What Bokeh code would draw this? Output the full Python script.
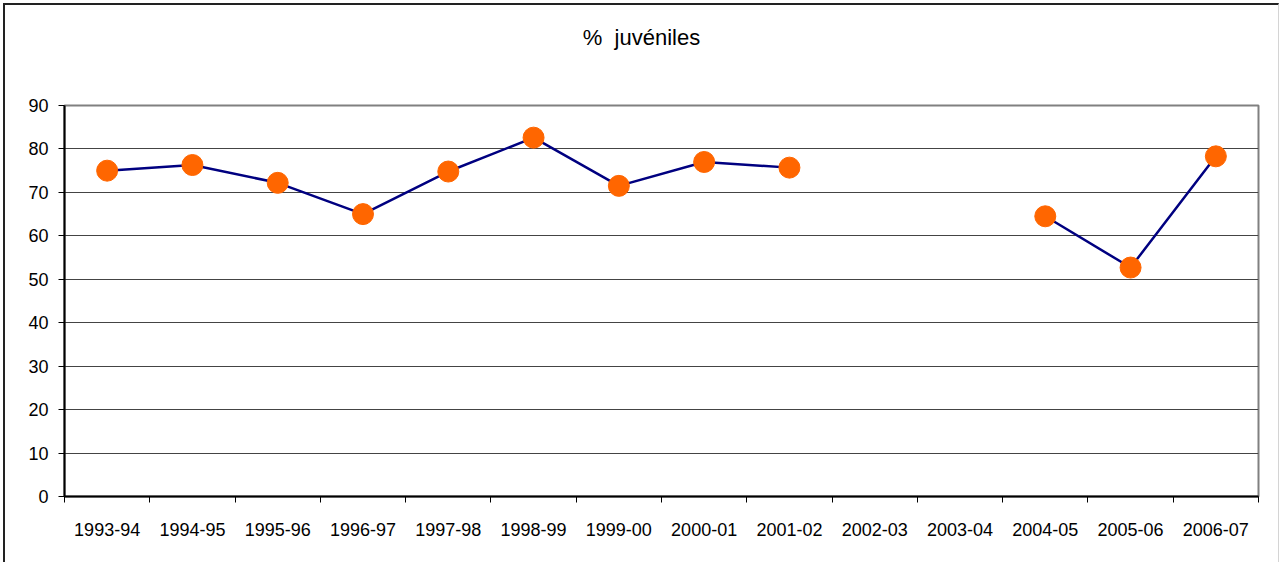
from bokeh.plotting import figure
from bokeh.models import FixedTicker, Range1d, ColumnDataSource, Div
from bokeh.layouts import column
from bokeh.embed import file_html
from bokeh.resources import INLINE

seasons = ["1993-94", "1994-95", "1995-96", "1996-97", "1997-98", "1998-99", "1999-00",
           "2000-01", "2001-02", "2002-03", "2003-04", "2004-05", "2005-06", "2006-07"]
pct_juveniles = [75.0, 76.3, 72.2, 65.0, 74.8, 82.6, 71.5, 77.0, 75.7,
                 None, None, 64.5, 52.7, 78.3]
y_ticks = [0, 10, 20, 30, 40, 50, 60, 70, 80, 90]
title_text = "%  juvéniles"

xs = list(range(1, len(seasons) + 1))
ys = [float("nan") if v is None else v for v in pct_juveniles]
src = ColumnDataSource(dict(x=xs, y=ys))

title_div = Div(text=title_text, width=1273, height=26, margin=(20, 0, 0, 0),
                styles={"font-family": "Liberation Sans", "font-size": "22px",
                        "text-align": "center", "white-space": "pre", "line-height": "26px",
                        "color": "black", "width": "1273px"})

p = figure(width=1273, height=511, output_backend="svg", toolbar_location=None,
           x_range=Range1d(0.5, len(seasons) + 0.5), y_range=Range1d(0, 90),
           min_border_left=59, min_border_right=20, min_border_top=54, min_border_bottom=66,
           margin=(0, 0, 0, 0))
p.background_fill_color = "white"
p.border_fill_color = "white"
p.outline_line_color = "#808080"
p.outline_line_width = 2

# axes
xa = p.xaxis[0]
xa.ticker = FixedTicker(ticks=xs, minor_ticks=[i + 0.5 for i in range(0, len(seasons) + 1)])
xa.major_label_overrides = {x: s for x, s in zip(xs, seasons)}
xa.major_tick_out = 0
xa.major_tick_in = 0
xa.minor_tick_out = 6
xa.minor_tick_in = 0
xa.minor_tick_line_color = "black"
xa.axis_line_color = "black"
xa.axis_line_width = 2
xa.major_label_standoff = 20
xa.major_label_text_font = "Liberation Sans"
xa.major_label_text_font_size = "18px"
xa.major_label_text_color = "black"

ya = p.yaxis[0]
ya.ticker = FixedTicker(ticks=y_ticks)
ya.major_tick_out = 6
ya.major_tick_in = 0
ya.minor_tick_out = 0
ya.minor_tick_in = 0
ya.axis_line_color = "black"
ya.axis_line_width = 2
ya.major_label_standoff = 10
ya.major_label_text_font = "Liberation Sans"
ya.major_label_text_font_size = "18px"
ya.major_label_text_color = "black"

p.xgrid.grid_line_color = None
p.ygrid.grid_line_color = "#444444"
p.ygrid.grid_line_width = 1

p.line("x", "y", source=src, line_color="#000080", line_width=2.5)
p.scatter("x", "y", source=src, size=21, fill_color="#FF6600", line_color="#FF6600")

layout = column(title_div, p, spacing=0,
                styles={"border-left": "2px solid #222222", "border-top": "2px solid #222222",
                        "border-right": "1px solid #d4d4d4", "margin-left": "3px",
                        "margin-top": "3px", "background": "white"})

open("out.html", "w").write(file_html(layout, INLINE))
